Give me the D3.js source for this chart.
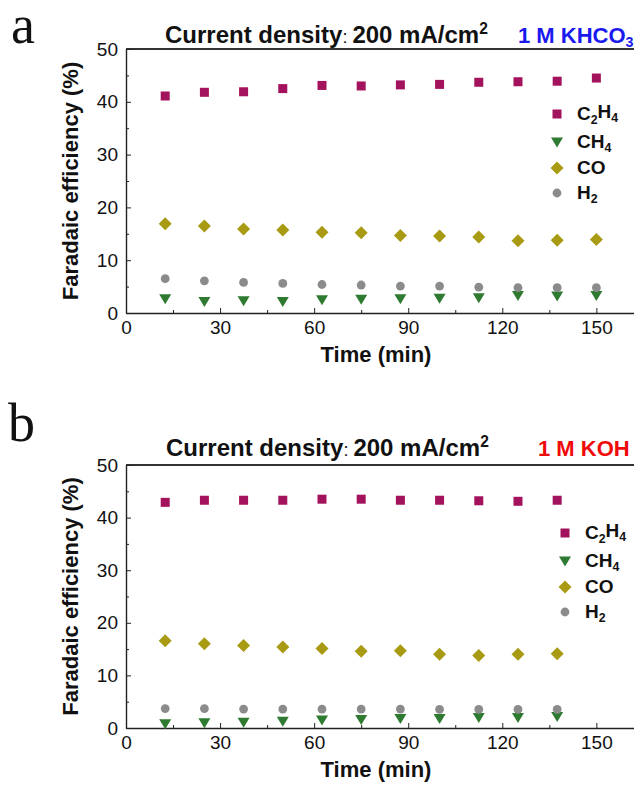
<!DOCTYPE html>
<html lang="en">
  <head>
    <meta charset="utf-8" />
    <title>Faradaic efficiency vs time</title>
    <script type="text/javascript" src="https://d3js.org/d3.v7.min.js"></script>
    <style>
      body { margin: 0; background: #fff; }
      .axis path, .axis line { stroke: #222; }
      .axis path { stroke-width: 1.4px; }
      .axis text { font-family: "Liberation Sans", Arial, sans-serif; font-size: 19px; fill: #111; }
      .lbl { font-family: "Liberation Sans", Arial, sans-serif; font-weight: bold; }
    </style>
  </head>
  <body>
    <script>
      // data
      let timesA = [12.5, 25, 37.5, 50, 62.5, 75, 87.5, 100, 112.5, 125, 137.5, 150];
      let c2h4A = [41.1, 41.8, 41.9, 42.5, 43.1, 43.0, 43.2, 43.3, 43.7, 43.8, 43.9, 44.5];
      let ch4A = [2.7, 2.2, 2.3, 2.2, 2.5, 2.6, 2.7, 2.8, 2.9, 3.3, 3.2, 3.3];
      let coA = [16.9, 16.5, 15.9, 15.7, 15.3, 15.2, 14.7, 14.6, 14.4, 13.7, 13.8, 13.9];
      let h2A = [6.5, 6.1, 5.8, 5.6, 5.4, 5.3, 5.1, 5.1, 4.9, 4.8, 4.8, 4.8];

      let timesB = [12.5, 25, 37.5, 50, 62.5, 75, 87.5, 100, 112.5, 125, 137.5];
      let c2h4B = [42.9, 43.3, 43.3, 43.3, 43.5, 43.5, 43.3, 43.3, 43.2, 43.1, 43.3];
      let ch4B = [0.8, 1.0, 1.1, 1.3, 1.5, 1.6, 1.8, 1.8, 2.0, 2.0, 2.2];
      let coB = [16.6, 16.0, 15.7, 15.4, 15.1, 14.6, 14.7, 14.0, 13.8, 14.0, 14.1];
      let h2B = [3.7, 3.7, 3.6, 3.6, 3.6, 3.6, 3.6, 3.55, 3.55, 3.55, 3.55];

      let xTicks = [0, 30, 60, 90, 120, 150];
      let xMinor = [15, 45, 75, 105, 135];
      let yTicks = [0, 10, 20, 30, 40, 50];
      let yMinor = [5, 15, 25, 35, 45];

      let w = 634;
      let h = 787;

      let svg = d3.select("body").append("svg").attr("width", w).attr("height", h);

      let symbols = {
        C2H4: { color: "#a3125c", shape: "square" },
        CH4: { color: "#2f7a31", shape: "tri" },
        CO: { color: "#a89a12", shape: "diamond" },
        H2: { color: "#8b8b8b", shape: "circle" }
      };

      function addMarker(g, shape, color, cx, cy) {
        if (shape == "square") {
          g.append("rect").attr("x", cx - 4.5).attr("y", cy - 4.5)
            .attr("width", 9).attr("height", 9).attr("fill", color);
        } else if (shape == "tri") {
          g.append("path").attr("d", `M${cx - 6},${cy - 4.5}L${cx + 6},${cy - 4.5}L${cx},${cy + 5.5}Z`)
            .attr("fill", color);
        } else if (shape == "diamond") {
          g.append("path").attr("d", `M${cx},${cy - 6.5}L${cx + 6.5},${cy}L${cx},${cy + 6.5}L${cx - 6.5},${cy}Z`)
            .attr("fill", color);
        } else {
          g.append("circle").attr("cx", cx).attr("cy", cy).attr("r", 4.4).attr("fill", color);
        }
      }

      // text with sub/superscript parts
      function richText(sel, parts) {
        parts.forEach((p) => {
          let t = sel.append("tspan").text(p[0]);
          if (p[1] == "sub") t.attr("font-size", "0.65em").attr("dy", "0.3em");
          if (p[1] == "sup") t.attr("font-size", "0.65em").attr("dy", "-0.55em");
          if (p[1] == "back") t.attr("dy", p[2]);
          if (p[1] == "colon") t.attr("font-weight", "normal").attr("font-size", "0.75em");
        });
      }

      function drawPanel(p) {
        let g = svg.append("g");
        let x = d3.scaleLinear().domain([0, 162]).range([126, 634]);
        let y = d3.scaleLinear().domain([0, 50]).range([p.bottom, p.top]);

        // top frame line
        g.append("line").attr("x1", 126).attr("x2", w).attr("y1", p.top).attr("y2", p.top)
          .attr("stroke", "#333").attr("stroke-width", 2);

        g.append("g").attr("class", "axis").attr("transform", `translate(0,${p.bottom})`)
          .call(d3.axisBottom(x).tickValues(xMinor).tickFormat("").tickSizeInner(-3).tickSizeOuter(0))
          .select(".domain").remove();
        g.append("g").attr("class", "axis").attr("transform", `translate(0,${p.bottom})`)
          .call(d3.axisBottom(x).tickValues(xTicks).tickSizeInner(-5).tickSizeOuter(0).tickPadding(8));

        g.append("g").attr("class", "axis").attr("transform", `translate(126,0)`)
          .call(d3.axisLeft(y).tickValues(yMinor).tickFormat("").tickSizeInner(-3).tickSizeOuter(0))
          .select(".domain").remove();
        g.append("g").attr("class", "axis").attr("transform", `translate(126,0)`)
          .call(d3.axisLeft(y).tickValues(yTicks).tickSizeInner(-5).tickSizeOuter(0).tickPadding(8));

        // series
        p.series.forEach((s) => {
          let sym = symbols[s.name];
          s.values.forEach((v, i) => addMarker(g, sym.shape, sym.color, x(p.times[i]), y(v)));
        });

        // legend
        let legend = [
          ["C2H4", [["C", null], ["2", "sub"], ["H", "back", "-0.3em"], ["4", "sub"]]],
          ["CH4", [["CH", null], ["4", "sub"]]],
          ["CO", [["CO", null]]],
          ["H2", [["H", null], ["2", "sub"]]]
        ];
        legend.forEach((l, i) => {
          let sym = symbols[l[0]];
          let ly = p.legendY[i];
          addMarker(g, sym.shape, sym.color, p.legendX, ly);
          let t = g.append("text").attr("class", "lbl").style("fill", "#111")
            .attr("x", p.legendX + 20).attr("y", ly + 6).attr("font-size", 19);
          richText(t, l[1]);
        });

        // axis titles
        g.append("text").attr("class", "lbl").style("fill", "#111").attr("font-size", 22)
          .attr("text-anchor", "middle").attr("x", 376).attr("y", p.bottom + 49).text("Time (min)");
        g.append("text").attr("class", "lbl").style("fill", "#111").attr("font-size", 22)
          .attr("text-anchor", "middle")
          .attr("transform", `translate(78,${(p.top + p.bottom) / 2}) rotate(-90)`)
          .text("Faradaic efficiency (%)");

        // title
        let t = g.append("text").attr("class", "lbl").style("fill", "#111").attr("font-size", 24)
          .attr("x", p.titleX).attr("y", p.titleY);
        richText(t, [["Current density", null], [": ", "colon"], ["200 mA/cm", null], ["2", "sup"]]);

        let e = g.append("text").attr("class", "lbl").style("fill", p.elecColor).attr("font-size", 22)
          .attr("x", p.elecX).attr("y", p.titleY);
        richText(e, p.elec);

        // panel letter
        svg.append("text").attr("x", p.letterX).attr("y", p.letterY)
          .attr("font-family", "'Liberation Serif', 'Times New Roman', serif")
          .attr("font-size", 54).style("fill", "#111").text(p.letter);
      }

      drawPanel({
        top: 49, bottom: 313, times: timesA,
        series: [
          { name: "C2H4", values: c2h4A },
          { name: "CH4", values: ch4A },
          { name: "CO", values: coA },
          { name: "H2", values: h2A }
        ],
        legendX: 557, legendY: [114, 142, 168, 193],
        titleX: 165, titleY: 43, elecX: 518, elecColor: "#1a1aee",
        elec: [["1 M KHCO", null], ["3", "sub"]],
        letter: "a", letterX: 11, letterY: 43
      });

      drawPanel({
        top: 465, bottom: 728, times: timesB,
        series: [
          { name: "C2H4", values: c2h4B },
          { name: "CH4", values: ch4B },
          { name: "CO", values: coB },
          { name: "H2", values: h2B }
        ],
        legendX: 565, legendY: [533, 561, 587, 612],
        titleX: 166, titleY: 456, elecX: 538, elecColor: "#f00a0a",
        elec: [["1 M KOH", null]],
        letter: "b", letterX: 8, letterY: 441
      });
    </script>
  </body>
</html>
